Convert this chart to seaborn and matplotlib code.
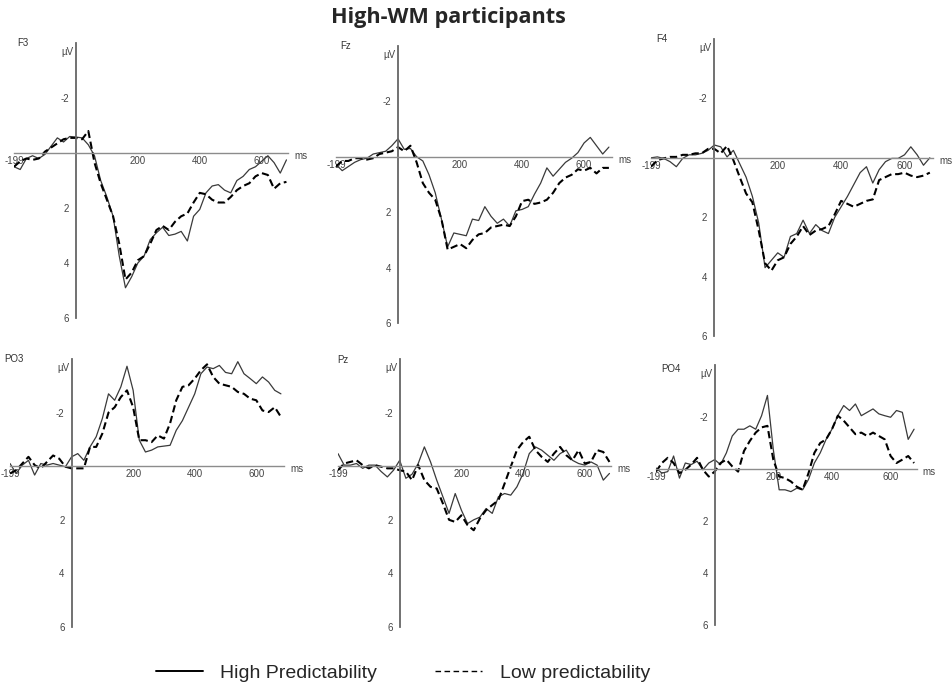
import matplotlib.pyplot as plt
from matplotlib.lines import Line2D
import seaborn as sns

# sample times (ms), every 20 ms
times = [-200, -180, -160, -140, -120, -100, -80, -60, -40, -20,
         0, 20, 40, 60, 80, 100, 120, 140, 160, 180,
         200, 220, 240, 260, 280, 300, 320, 340, 360, 380,
         400, 420, 440, 460, 480, 500, 520, 540, 560, 580,
         600, 620, 640, 660, 680]

# amplitudes in microvolts (negative up)
f3_high = [0.5, 0.6, 0.2, 0.1, 0.2, 0.05, -0.25, -0.55, -0.4, -0.6,
           -0.58, -0.55, -0.3, 0.1, 1.0, 1.6, 2.3, 3.75, 4.9, 4.5,
           4.0, 3.75, 3.15, 2.9, 2.7, 3.0, 2.95, 2.85, 3.2, 2.3,
           2.05, 1.45, 1.2, 1.15, 1.35, 1.45, 1.0, 0.85, 0.6, 0.5,
           0.3, 0.1, 0.35, 0.73, 0.25]
f3_low = [0.5, 0.3, 0.2, 0.25, 0.2, -0.05, -0.2, -0.35, -0.5, -0.55,
          -0.55, -0.5, -0.8, 0.35, 1.1, 1.7, 2.3, 3.3, 4.6, 4.35,
          3.9, 3.75, 3.3, 2.8, 2.65, 2.8, 2.5, 2.3, 2.2, 1.8,
          1.45, 1.5, 1.7, 1.8, 1.8, 1.6, 1.35, 1.2, 1.1, 0.85,
          0.73, 0.8, 1.3, 1.1, 1.05]

fz_high = [0.28, 0.5, 0.35, 0.2, 0.1, 0.05, -0.1, -0.15, -0.2, -0.4,
           -0.65, -0.27, -0.3, 0.0, 0.15, 0.65, 1.3, 2.25, 3.25, 2.75,
           2.8, 2.85, 2.25, 2.3, 1.8, 2.15, 2.4, 2.25, 2.5, 1.95,
           1.9, 1.8, 1.35, 0.95, 0.4, 0.7, 0.45, 0.2, 0.05, -0.15,
           -0.5, -0.7, -0.4, -0.1, -0.35]
fz_low = [0.35, 0.15, 0.15, 0.05, 0.05, 0.1, 0.05, -0.1, -0.15, -0.2,
          -0.35, -0.2, -0.4, 0.2, 0.95, 1.3, 1.55, 2.25, 3.35, 3.25,
          3.15, 3.3, 3.0, 2.8, 2.75, 2.55, 2.5, 2.45, 2.5, 2.15,
          1.6, 1.55, 1.7, 1.65, 1.55, 1.3, 0.95, 0.75, 0.65, 0.45,
          0.5, 0.4, 0.6, 0.4, 0.4]

f4_high = [0.0, -0.03, 0.02, 0.13, 0.3, 0.02, -0.1, -0.1, -0.15, -0.25,
           -0.43, -0.37, -0.03, -0.25, 0.2, 0.65, 1.3, 2.2, 3.7, 3.45,
           3.2, 3.35, 2.65, 2.55, 2.1, 2.55, 2.25, 2.45, 2.55, 2.0,
           1.65, 1.3, 0.9, 0.5, 0.3, 0.85, 0.4, 0.13, 0.02, 0.02,
           -0.1, -0.37, -0.1, 0.25, 0.0]
f4_low = [0.3, 0.08, 0.02, -0.03, -0.03, -0.1, -0.1, -0.15, -0.15, -0.3,
          -0.3, -0.15, -0.4, 0.08, 0.65, 1.2, 1.5, 2.45, 3.55, 3.8,
          3.45, 3.35, 2.9, 2.65, 2.3, 2.6, 2.45, 2.4, 2.3, 1.9,
          1.45, 1.55, 1.65, 1.55, 1.45, 1.4, 0.75, 0.65, 0.55, 0.55,
          0.5, 0.6, 0.65, 0.6, 0.5]

po3_high = [-0.1, 0.27, -0.04, -0.22, 0.33, -0.1, -0.04, -0.1, -0.04, 0.02,
            -0.35, -0.47, -0.22, -0.72, -1.1, -1.78, -2.7, -2.46, -2.96, -3.73,
            -2.83, -0.97, -0.53, -0.6, -0.72, -0.75, -0.78, -1.34, -1.7, -2.2,
            -2.7, -3.45, -3.7, -3.64, -3.76, -3.5, -3.45, -3.9, -3.45, -3.27,
            -3.08, -3.33, -3.14, -2.83, -2.7]
po3_low = [0.27, 0.15, -0.1, -0.35, -0.04, 0.08, -0.16, -0.4, -0.28, 0.02,
           0.08, 0.08, 0.08, -0.72, -0.72, -1.22, -2.0, -2.2, -2.58, -2.83,
           -2.2, -0.97, -0.97, -0.9, -1.15, -1.03, -1.6, -2.46, -2.96, -3.02,
           -3.27, -3.58, -3.8, -3.33, -3.08, -3.02, -2.96, -2.77, -2.7, -2.52,
           -2.46, -2.08, -2.02, -2.2, -1.84]

pz_high = [-0.47, -0.04, -0.04, -0.1, 0.08, -0.04, -0.04, 0.2, 0.4, 0.15,
           -0.22, 0.45, 0.3, -0.1, -0.72, -0.16, 0.52, 1.14, 1.76, 1.02,
           1.64, 2.14, 2.0, 1.9, 1.58, 1.76, 1.14, 1.02, 1.08, 0.77,
           0.27, -0.47, -0.72, -0.6, -0.41, -0.22, -0.47, -0.6, -0.22, -0.1,
           -0.04, -0.16, -0.04, 0.52, 0.27]
pz_low = [0.15, -0.1, -0.16, -0.22, -0.04, 0.08, -0.04, 0.02, 0.08, 0.08,
          0.15, 0.2, 0.52, -0.04, 0.52, 0.77, 0.83, 1.39, 2.0, 2.08,
          1.83, 2.2, 2.39, 1.95, 1.64, 1.45, 1.27, 0.65, 0.02, -0.6,
          -0.9, -1.1, -0.6, -0.35, -0.16, -0.47, -0.72, -0.41, -0.22, -0.6,
          -0.1, -0.16, -0.6, -0.53, -0.16]

po4_high = [-0.04, 0.16, 0.1, -0.5, 0.35, -0.23, -0.17, -0.3, 0.03, -0.23,
            -0.36, -0.17, -0.62, -1.27, -1.53, -1.53, -1.66, -1.53, -2.05, -2.83,
            -0.75, 0.8, 0.8, 0.87, 0.74, 0.8, 0.4, -0.23, -0.62, -1.14,
            -1.53, -2.05, -2.44, -2.25, -2.5, -2.05, -2.18, -2.31, -2.12, -2.05,
            -1.99, -2.25, -2.18, -1.14, -1.53]
po4_low = [0.1, -0.23, -0.43, -0.23, 0.16, 0.03, -0.17, -0.43, 0.03, 0.29,
           0.1, -0.23, -0.36, -0.1, 0.1, -0.69, -1.08, -1.4, -1.6, -1.66,
           -0.36, 0.29, 0.35, 0.48, 0.68, 0.8, 0.16, -0.62, -1.0, -1.14,
           -1.53, -2.05, -1.86, -1.6, -1.34, -1.4, -1.27, -1.4, -1.27, -1.14,
           -0.5, -0.23, -0.36, -0.5, -0.23]

legend_labels = ["High Predictability", "Low predictability"]

sns.set_style("white")
plt.rcParams['font.family'] = ['Liberation Sans', 'DejaVu Sans']

W, H = 953, 686
fig = plt.figure(figsize=(W / 100, H / 100), dpi=100)

# name, high, low, box in pixels (left, top, right, bottom), x end, name position
panels = [
    ("F3", f3_high, f3_low, (14, 43, 288, 318), 685, (-190, -4.0)),
    ("Fz", fz_high, fz_low, (336, 46, 612, 323), 690, (-187, -4.0)),
    ("F4", f4_high, f4_low, (651, 39, 933, 336), 690, (-183, -4.0)),
    ("PO3", po3_high, po3_low, (10, 359, 284, 627), 690, (-219, -4.0)),
    ("Pz", pz_high, pz_low, (338, 359, 611, 627), 685, (-203, -3.95)),
    ("PO4", po4_high, po4_low, (656, 365, 917, 625), 690, (-183, -3.85)),
]

for name, high, low, box, xend, name_pos in panels:
    l, t, r, b = box
    ax = fig.add_axes([l / W, 1 - b / H, (r - l) / W, (b - t) / H])
    ax.set_facecolor("none")

    sns.lineplot(x=times, y=high, ax=ax, color="#3a3a3a", lw=0.9)
    sns.lineplot(x=times, y=low, ax=ax, color="black", lw=1.5,
                 linestyle=(0, (3.5, 1.8)))

    ax.set_xlim(-200, xend)
    ax.set_ylim(6, -4)
    ax.set_xlabel("")
    ax.set_ylabel("")

    # crosshair axes through zero
    for side in ["top", "right"]:
        ax.spines[side].set_visible(False)
    ax.spines["left"].set_position(("data", 0))
    ax.spines["bottom"].set_position(("data", 0))
    ax.spines["left"].set_color("#666666")
    ax.spines["left"].set_linewidth(1.3)
    ax.spines["bottom"].set_color("#8c8c8c")
    ax.spines["bottom"].set_linewidth(1.0)

    ax.set_yticks([-2, 2, 4, 6])
    ax.set_yticklabels(["-2", "2", "4", "6"])
    ax.set_xticks([-199, 200, 400, 600])
    ax.set_xticklabels(["-199", "200", "400", "600"])
    ax.set_xticks([100, 300, 500], minor=True)
    ax.tick_params(axis="y", direction="out", length=3, width=0.8,
                   labelsize=7, labelcolor="#444444", color="#666666", pad=2)
    ax.tick_params(axis="x", which="both", direction="inout", length=4,
                   width=0.8, labelsize=7, labelcolor="#444444",
                   color="#8c8c8c", pad=0)

    ax.text(xend + 20, 0.1, "ms", fontsize=7, color="#444444",
            ha="left", va="center")
    ax.text(-8, -3.85, "µV", fontsize=7, color="#444444",
            ha="right", va="top")
    ax.text(name_pos[0], name_pos[1], name, fontsize=7, color="#333333",
            ha="left", va="center")

fig.text(448 / W, 1 - 17 / H, "High-WM participants", ha="center",
         va="center", fontsize=15.6, fontweight="bold",
         family=["Open Sans", "DejaVu Sans"])

handles = [Line2D([], [], color="black", lw=1.4),
           Line2D([], [], color="black", lw=1.0, linestyle=(0, (4, 2.5)))]
fig.legend(handles=handles, labels=legend_labels, loc="center",
           bbox_to_anchor=(403 / W, 1 - 673 / H), ncol=2, frameon=False,
           fontsize=14, handlelength=2.4, handletextpad=0.9,
           columnspacing=3.0)

fig.savefig("out.png", dpi=100)
